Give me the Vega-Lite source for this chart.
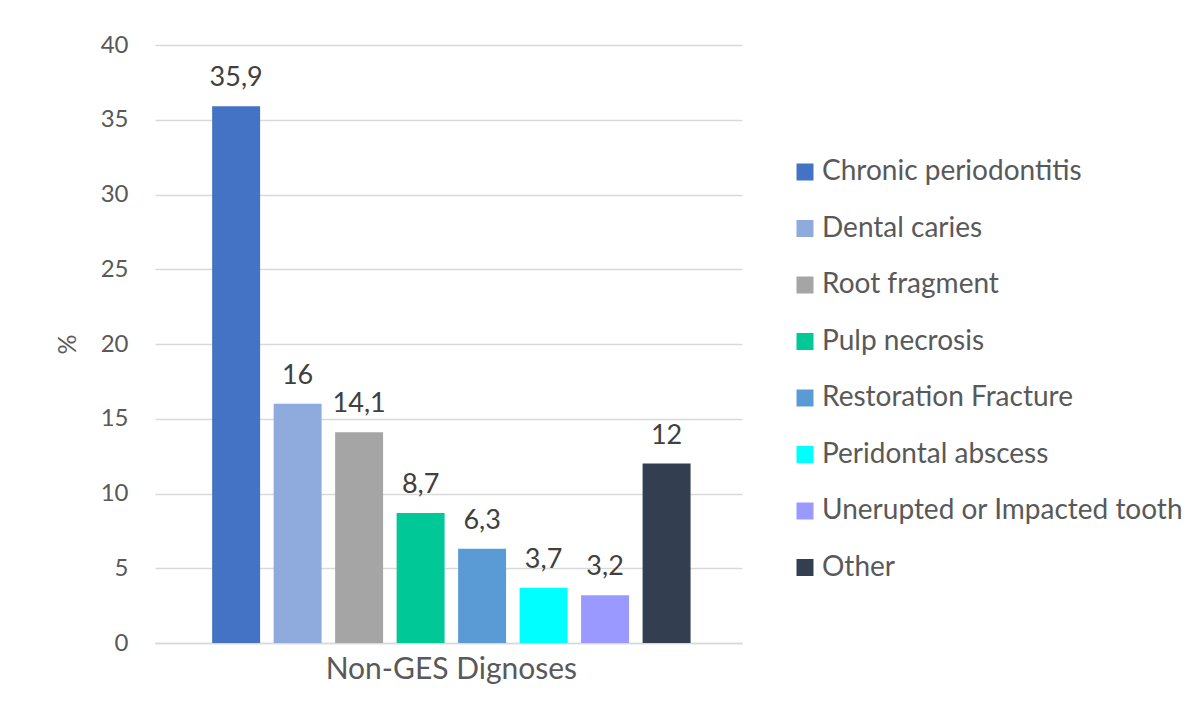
{
  "$schema": "https://vega.github.io/schema/vega-lite/v6.json",
  "width": 587,
  "height": 598,
  "autosize": {"type": "none"},
  "padding": {"left": 155, "top": 45, "right": 462, "bottom": 77},
  "background": "white",
  "data": {
    "values": [
      {"group": "Non-GES Dignoses", "diagnosis": "Chronic periodontitis", "value": 35.9},
      {"group": "Non-GES Dignoses", "diagnosis": "Dental caries", "value": 16},
      {"group": "Non-GES Dignoses", "diagnosis": "Root fragment", "value": 14.1},
      {"group": "Non-GES Dignoses", "diagnosis": "Pulp necrosis", "value": 8.7},
      {"group": "Non-GES Dignoses", "diagnosis": "Restoration Fracture", "value": 6.3},
      {"group": "Non-GES Dignoses", "diagnosis": "Peridontal abscess", "value": 3.7},
      {"group": "Non-GES Dignoses", "diagnosis": "Unerupted or Impacted tooth", "value": 3.2},
      {"group": "Non-GES Dignoses", "diagnosis": "Other", "value": 12}
    ]
  },
  "encoding": {
    "x": {
      "field": "group",
      "type": "nominal",
      "scale": {"paddingInner": 0, "paddingOuter": 0.0966, "align": 0.53},
      "axis": {
        "title": null,
        "labelAngle": 0,
        "labelFontSize": 30,
        "labelColor": "#595959",
        "labelPadding": 11,
        "labelLimit": 500,
        "ticks": false,
        "domainColor": "#D9D9D9",
        "domainWidth": 1.5
      }
    },
    "xOffset": {
      "field": "diagnosis",
      "type": "nominal",
      "sort": ["Chronic periodontitis", "Dental caries", "Root fragment", "Pulp necrosis", "Restoration Fracture", "Peridontal abscess", "Unerupted or Impacted tooth", "Other"],
      "scale": {"paddingInner": 0.22, "paddingOuter": 0.11}
    },
    "y": {
      "field": "value",
      "type": "quantitative",
      "scale": {"domain": [0, 40], "nice": false},
      "axis": {
        "title": "%",
        "values": [0, 5, 10, 15, 20, 25, 30, 35, 40],
        "titleFontSize": 25,
        "titleFontWeight": "normal",
        "titleColor": "#595959",
        "titlePadding": 20,
        "labelFontSize": 24,
        "labelColor": "#595959",
        "labelPadding": 27,
        "domain": false,
        "ticks": false,
        "gridColor": "#D9D9D9",
        "gridWidth": 1.5
      }
    }
  },
  "layer": [
    {
      "mark": {"type": "bar"},
      "encoding": {
        "color": {
          "field": "diagnosis",
          "type": "nominal",
          "sort": ["Chronic periodontitis", "Dental caries", "Root fragment", "Pulp necrosis", "Restoration Fracture", "Peridontal abscess", "Unerupted or Impacted tooth", "Other"],
          "scale": {
            "domain": ["Chronic periodontitis", "Dental caries", "Root fragment", "Pulp necrosis", "Restoration Fracture", "Peridontal abscess", "Unerupted or Impacted tooth", "Other"],
            "range": ["#4472C4", "#8FAADC", "#A5A5A5", "#00C896", "#5B9BD5", "#00FFFF", "#9999FF", "#333F50"]
          },
          "legend": {
            "title": null,
            "orient": "none",
            "legendX": 636,
            "legendY": 113,
            "symbolType": "square",
            "symbolSize": 289,
            "symbolStrokeWidth": 0,
            "labelFontSize": 28,
            "labelColor": "#595959",
            "labelLimit": 500,
            "labelOffset": 3,
            "rowPadding": 28.5
          }
        }
      }
    },
    {
      "mark": {"type": "text", "baseline": "alphabetic", "dy": -20, "fontSize": 27, "color": "#404040"},
      "encoding": {
        "text": {"field": "value", "type": "quantitative"}
      }
    }
  ],
  "config": {
    "font": "Lato",
    "view": {"stroke": null},
    "locale": {"number": {"decimal": ",", "thousands": ".", "grouping": [3], "currency": ["", " €"]}}
  }
}
